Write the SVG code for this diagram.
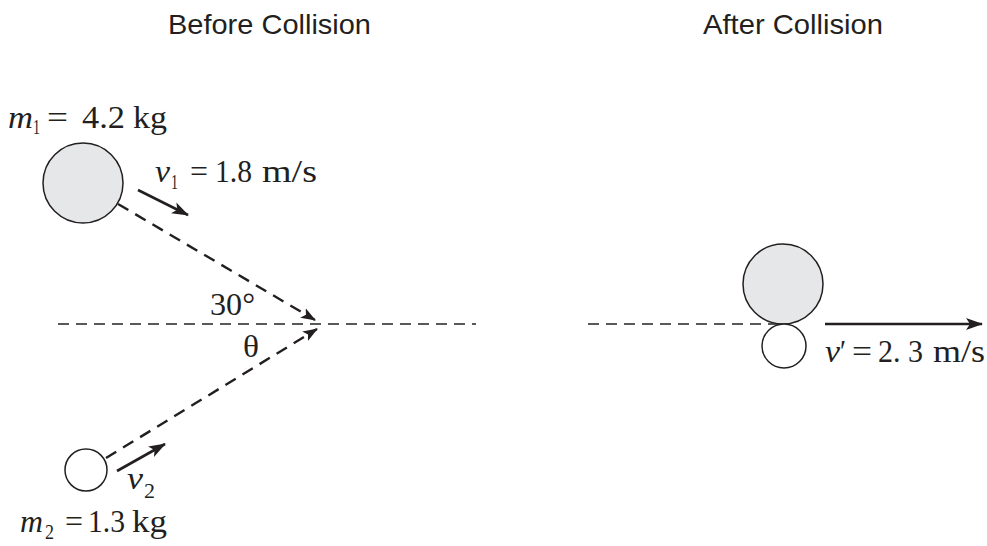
<svg xmlns="http://www.w3.org/2000/svg" width="987" height="546" viewBox="0 0 987 546">
<style>
.title{font-family:"Liberation Sans",Arial,sans-serif;font-size:28px;fill:#231f20}
.t{font-family:"Liberation Serif","Times New Roman",serif;font-size:31px;fill:#231f20}
.i{font-style:italic}
.sub{font-size:21px}
.ball{stroke:#231f20;stroke-width:1.5}
.big{fill:#e6e7e8}
.small{fill:#fff}
.axis{stroke:#58595b;stroke-width:1.8;stroke-dasharray:11 7;fill:none}
.path{stroke:#231f20;stroke-width:2.4;stroke-dasharray:12 8;fill:none}
.vel{stroke:#231f20;stroke-width:2.6;fill:none}
</style>
<defs>
<marker id="ah" markerUnits="userSpaceOnUse" markerWidth="18" markerHeight="14" refX="16" refY="7" orient="auto">
<path d="M0,1 L17,7 L0,13 L4,7 Z" fill="#231f20"/>
</marker>
<marker id="ahs" markerUnits="userSpaceOnUse" markerWidth="16" markerHeight="12" refX="14" refY="6" orient="auto">
<path d="M0,0.5 L15,6 L0,11.5 L3.5,6 Z" fill="#231f20"/>
</marker>
</defs>

<g id="titles">
<text class="title" x="168" y="34" textLength="203" lengthAdjust="spacingAndGlyphs">Before Collision</text>
<text class="title" x="703" y="34" textLength="180" lengthAdjust="spacingAndGlyphs">After Collision</text>
</g>

<g id="connectors">
<line class="axis" x1="58" y1="324" x2="476" y2="324"/>
<line class="axis" x1="588" y1="324" x2="780" y2="324"/>
<line class="path" x1="118" y1="204" x2="315" y2="320" marker-end="url(#ahs)"/>
<line class="path" x1="106" y1="458" x2="317" y2="329" marker-end="url(#ahs)"/>
<line class="vel" x1="138" y1="190" x2="188" y2="215" marker-end="url(#ah)"/>
<line class="vel" x1="117" y1="471" x2="165" y2="444" marker-end="url(#ah)"/>
<line class="vel" x1="825" y1="324" x2="982" y2="324" marker-end="url(#ah)"/>
</g>

<g id="ball1-before">
<circle class="ball big" cx="83" cy="183" r="40"/>
<text class="t i" x="8" y="128" textLength="25" lengthAdjust="spacingAndGlyphs">m</text>
<text class="t sub" x="33" y="134" textLength="7" lengthAdjust="spacingAndGlyphs">1</text>
<text class="t" x="47" y="128" textLength="21" lengthAdjust="spacingAndGlyphs">=</text>
<text class="t" x="82" y="128" textLength="43" lengthAdjust="spacingAndGlyphs">4.2</text>
<text class="t" x="133" y="128" textLength="34" lengthAdjust="spacingAndGlyphs">kg</text>
</g>

<g id="v1-label">
<text class="t i" x="155" y="182" textLength="15" lengthAdjust="spacingAndGlyphs">v</text>
<text class="t sub" x="171" y="189" textLength="7" lengthAdjust="spacingAndGlyphs">1</text>
<text class="t" x="190" y="182" textLength="18" lengthAdjust="spacingAndGlyphs">=</text>
<text class="t" x="215" y="182" textLength="37" lengthAdjust="spacingAndGlyphs">1.8</text>
<text class="t" x="262" y="182" textLength="55" lengthAdjust="spacingAndGlyphs">m/s</text>
</g>

<g id="angles">
<text class="t" x="210" y="315" textLength="45" lengthAdjust="spacingAndGlyphs">30°</text>
<text class="t" x="243" y="357" textLength="16" lengthAdjust="spacingAndGlyphs">θ</text>
</g>

<g id="ball2-before">
<circle class="ball small" cx="86" cy="470" r="21"/>
<text class="t i" x="127" y="489" textLength="16" lengthAdjust="spacingAndGlyphs">v</text>
<text class="t sub" x="144" y="498" textLength="11" lengthAdjust="spacingAndGlyphs">2</text>
<text class="t i" x="20" y="532" textLength="23" lengthAdjust="spacingAndGlyphs">m</text>
<text class="t sub" x="45" y="539" textLength="9" lengthAdjust="spacingAndGlyphs">2</text>
<text class="t" x="65" y="532" textLength="18" lengthAdjust="spacingAndGlyphs">=</text>
<text class="t" x="88" y="532" textLength="37" lengthAdjust="spacingAndGlyphs">1.3</text>
<text class="t" x="132" y="532" textLength="35" lengthAdjust="spacingAndGlyphs">kg</text>
</g>

<g id="balls-after">
<circle class="ball big" cx="783" cy="284" r="40"/>
<circle class="ball small" cx="784" cy="346" r="22"/>
<text class="t i" x="825" y="362" textLength="15" lengthAdjust="spacingAndGlyphs">v</text>
<text class="t" x="840" y="362" textLength="6" lengthAdjust="spacingAndGlyphs">′</text>
<text class="t" x="852" y="362" textLength="20" lengthAdjust="spacingAndGlyphs">=</text>
<text class="t" x="878" y="362" textLength="45" lengthAdjust="spacingAndGlyphs">2. 3</text>
<text class="t" x="933" y="362" textLength="52" lengthAdjust="spacingAndGlyphs">m/s</text>
</g>
</svg>
